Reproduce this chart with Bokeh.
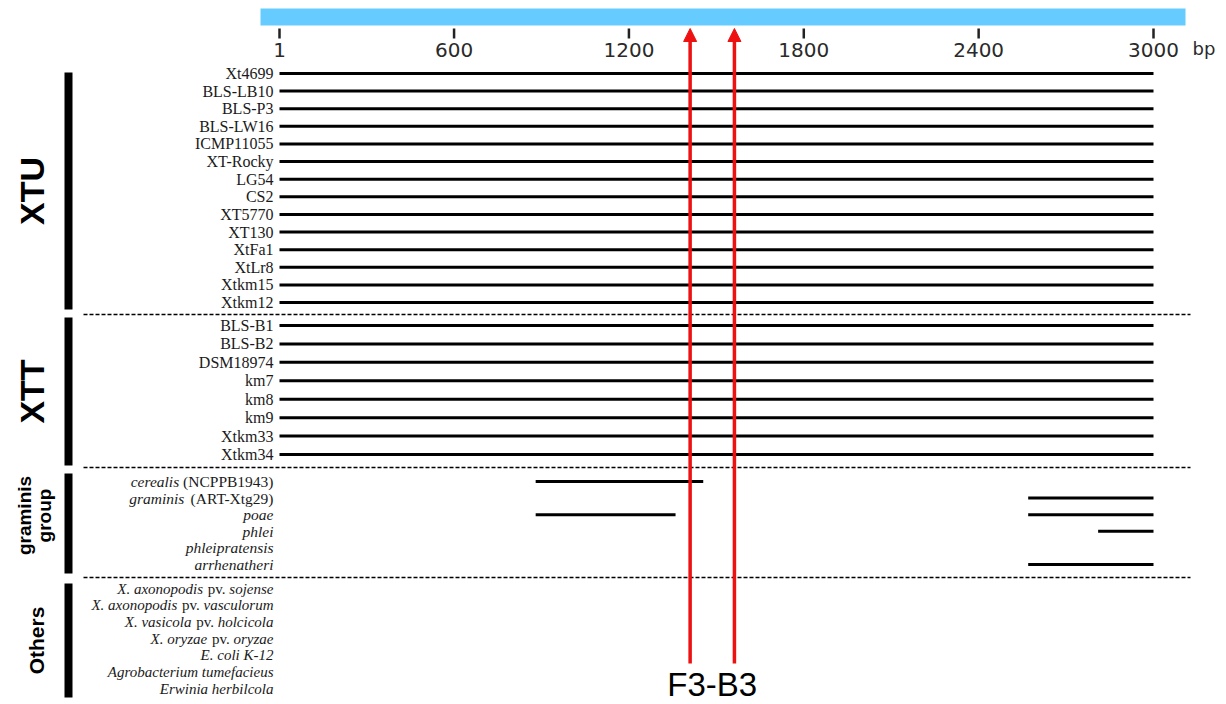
import numpy as np
from bokeh.plotting import figure
from bokeh.models import Range1d, ColumnDataSource, Arrow, NormalHead
from bokeh.embed import file_html
from bokeh.resources import INLINE
from bokeh.core.properties import value

W, H = 1226, 704

# ---------------- data ----------------
genome_length = 3000
tick_values = [1, 600, 1200, 1800, 2400, 3000]
tick_labels = ["1", "600", "1200", "1800", "2400", "3000"]
axis_unit = "bp"
primer_positions = [1410, 1562]
primer_label = "F3-B3"

xtu_strains = ["Xt4699", "BLS-LB10", "BLS-P3", "BLS-LW16", "ICMP11055", "XT-Rocky",
               "LG54", "CS2", "XT5770", "XT130", "XtFa1", "XtLr8", "Xtkm15", "Xtkm12"]
xtt_strains = ["BLS-B1", "BLS-B2", "DSM18974", "km7", "km8", "km9", "Xtkm33", "Xtkm34"]
graminis_labels = [
    [("cerealis", "italic"), (" (NCPPB1943)", "normal")],
    [("graminis", "italic"), (" (ART-Xtg29)", "normal")],
    [("poae", "italic")],
    [("phlei", "italic")],
    [("phleipratensis", "italic")],
    [("arrhenatheri", "italic")],
]
others_labels = [
    [("X. axonopodis", "italic"), (" pv. ", "normal"), ("sojense", "italic")],
    [("X. axonopodis", "italic"), (" pv. ", "normal"), ("vasculorum", "italic")],
    [("X. vasicola", "italic"), (" pv. ", "normal"), ("holcicola", "italic")],
    [("X. oryzae", "italic"), (" pv. ", "normal"), ("oryzae", "italic")],
    [("E. coli K-12", "italic")],
    [("Agrobacterium tumefacieus", "italic")],
    [("Erwinia herbilcola", "italic")],
]
# aligned regions (start, end) in bp
xtu_regions = [[(1, 3000)] for _ in xtu_strains]
xtt_regions = [[(1, 3000)] for _ in xtt_strains]
graminis_regions = [
    [(880, 1455)],
    [(2570, 3000)],
    [(880, 1360), (2570, 3000)],
    [(2810, 3000)],
    [],
    [(2570, 3000)],
]
others_regions = [[] for _ in others_labels]

group_names = ["XTU", "XTT", "graminis group", "Others"]

# ---------------- layout ----------------
X0_PX, X1_PX = 279, 1153
k = (X1_PX - X0_PX) / (genome_length - 1)
x_start = 1 - X0_PX / k
x_end = 1 + (W - X0_PX) / k

group_rows = [
    (np.linspace(73, 302, len(xtu_strains)), [[(s, "normal")] for s in xtu_strains], xtu_regions, 16),
    (np.linspace(325, 454, len(xtt_strains)), [[(s, "normal")] for s in xtt_strains], xtt_regions, 16),
    (np.linspace(481, 564, len(graminis_labels)), graminis_labels, graminis_regions, 15.5),
    (np.linspace(588, 688, len(others_labels)), others_labels, others_regions, 15),
]
separators = [314, 467, 577]
group_bounds = [(72, 309), (317, 465), (473, 573), (583, 697)]

# Times (Liberation Serif) advance widths, 1/1000 em
REG = {" ": 250, "(": 333, ")": 333, "-": 333, ".": 250, "A": 722, "B": 667, "C": 667,
       "D": 722, "I": 333, "L": 611, "M": 889, "N": 722, "P": 556, "R": 667, "S": 556,
       "T": 611, "U": 722, "W": 944, "X": 722, "F": 556, "G": 722, "K": 722,
       "a": 444, "c": 444, "k": 500, "m": 778, "o": 500, "y": 500, "g": 500, "t": 278,
       "p": 500, "v": 500, "r": 333, "e": 444}
ITA = {" ": 250, ".": 250, "-": 333, "A": 611, "E": 611, "K": 667, "X": 611,
       "a": 500, "b": 500, "c": 444, "d": 500, "e": 444, "f": 278, "g": 500, "h": 500,
       "i": 278, "j": 278, "k": 444, "l": 278, "m": 722, "n": 500, "o": 500, "p": 500,
       "r": 389, "s": 389, "t": 278, "u": 500, "v": 444, "w": 667, "x": 444, "y": 444,
       "z": 389}


def text_w(s, style, size):
    tab = ITA if style == "italic" else REG
    return sum(tab.get(c, 500) for c in s) / 1000.0 * size


lbl = dict(x=[], y=[], text=[], style=[], xoff=[], size=[])
seg = dict(x0=[], x1=[], y=[])
for ys, labels, regions, fsize in group_rows:
    for yv, parts, regs in zip(ys, labels, regions):
        off = -6.0
        for txt, st in reversed(parts):
            core = txt.strip()
            trailing = txt[len(txt.rstrip()):]
            lbl["x"].append(1)
            lbl["y"].append(yv)
            lbl["text"].append(core)
            lbl["style"].append(st)
            lbl["xoff"].append(off - text_w(trailing, st, fsize))
            lbl["size"].append(f"{fsize}px")
            off -= text_w(txt, st, fsize)
        for a, b in regs:
            seg["x0"].append(a)
            seg["x1"].append(b)
            seg["y"].append(yv)

p = figure(width=W, height=H, x_range=Range1d(x_start, x_end), y_range=Range1d(H, 0),
           output_backend="svg", toolbar_location=None, min_border=0,
           x_axis_location=None, y_axis_location=None)
p.extra_x_ranges = {"px": Range1d(0, W)}
p.grid.visible = False
p.outline_line_color = None
p.background_fill_color = "white"

# top scale bar
p.quad(left=[260], right=[1185], top=[8], bottom=[25], x_range_name="px",
       fill_color="#66ccff", line_color=None)
p.segment(x0=tick_values, x1=tick_values, y0=[28] * len(tick_values), y1=[38] * len(tick_values),
          line_color="#222222", line_width=2.5)
p.text(x=tick_values, y=[49] * len(tick_values), text=tick_labels, text_align="center",
       text_baseline="middle", text_font=value("DejaVu Sans"), text_font_size="20px",
       text_color="#2a2a2a")
p.text(x=[1192], y=[48], text=[axis_unit], x_range_name="px", text_align="left",
       text_baseline="middle", text_font=value("DejaVu Sans"), text_font_size="18px",
       text_color="#2a2a2a")

# separators
p.segment(x0=[83] * len(separators), x1=[1190] * len(separators), y0=separators, y1=separators,
          x_range_name="px", line_color="black", line_width=1.5, line_dash="4 2")

# group bars
p.segment(x0=[68] * 4, x1=[68] * 4, y0=[b[0] for b in group_bounds], y1=[b[1] for b in group_bounds],
          x_range_name="px", line_color="black", line_width=8)
gy = [(b[0] + b[1]) / 2 for b in group_bounds]
p.text(x=[31, 31], y=gy[:2], text=group_names[:2], x_range_name="px", angle=np.pi / 2,
       text_align="center", text_baseline="middle", text_font=value("Liberation Sans"),
       text_font_style="bold", text_font_size="34px", text_color="black")
p.text(x=[24, 44], y=[gy[2] - 8, gy[2] - 8], text=group_names[2].split(" "), x_range_name="px",
       angle=np.pi / 2, text_align="center", text_baseline="middle",
       text_font=value("Liberation Sans"), text_font_style="bold", text_font_size="19px",
       text_color="black")
p.text(x=[36], y=[gy[3]], text=[group_names[3]], x_range_name="px", angle=np.pi / 2,
       text_align="center", text_baseline="middle", text_font=value("Liberation Sans"),
       text_font_style="bold", text_font_size="21px", text_color="black")

# strain lines
p.segment(x0="x0", x1="x1", y0="y", y1="y", source=ColumnDataSource(seg),
          line_color="black", line_width=3)

# strain labels
p.text(x="x", y="y", text="text", x_offset="xoff", source=ColumnDataSource(lbl),
       text_align="right", text_baseline="middle", text_font=value("Liberation Serif"),
       text_font_style="style", text_font_size="size", text_color="#1a1a1a")

# primer arrows
red = "#ee1111"
arr_src = ColumnDataSource(dict(x=primer_positions, y0=[663] * len(primer_positions),
                                y1=[28] * len(primer_positions)))
p.add_layout(Arrow(end=NormalHead(size=13, fill_color=red, line_color=red, line_width=1),
                   x_start="x", y_start="y0", x_end="x", y_end="y1", source=arr_src,
                   line_color=red, line_width=3.5))
p.text(x=[np.mean(primer_positions)], y=[684], text=[primer_label], text_align="center",
       text_baseline="middle", text_font=value("Liberation Sans"), text_font_size="33px",
       text_color="black")

open("out.html", "w").write(file_html(p, INLINE))
